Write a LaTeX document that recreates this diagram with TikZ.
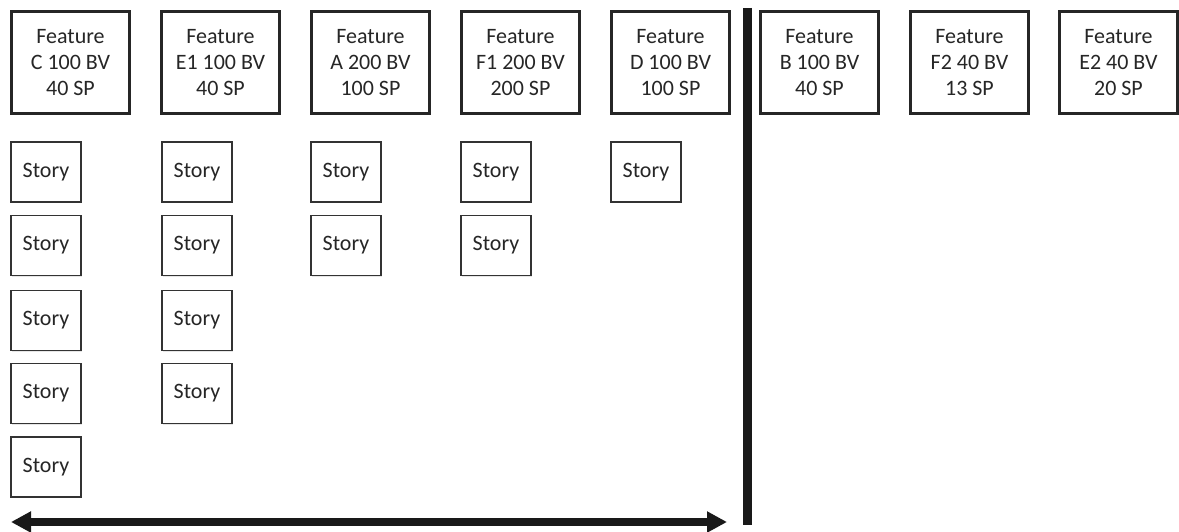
\documentclass[tikz,border=0pt]{standalone}
\usepackage{fontspec}
\setmainfont{Carlito}
\usetikzlibrary{arrows.meta,shadows}

\begin{document}
\begin{tikzpicture}[
        feature/.style={draw=black!85, line width=1.4pt, fill=white,
            minimum width=2.36cm, minimum height=2.04cm, align=center,
            text=black!85, font=\fontsize{12.5}{15}\selectfont,
            drop shadow={opacity=0.25, shadow xshift=0.8pt, shadow yshift=-0.8pt}},
        story/.style={draw=black!80, line width=1pt, fill=white,
            minimum width=1.4cm, minimum height=1.2cm,
            text=black!85, font=\fontsize{12.5}{15}\selectfont,
            drop shadow={opacity=0.2, shadow xshift=0.7pt, shadow yshift=-0.7pt}},
        divider/.style={line width=0.18cm, black!90},
        span/.style={line width=0.16cm, black!90,
            {Triangle[length=0.4cm, width=0.4cm]}-{Triangle[length=0.4cm, width=0.4cm]}}
    ]
        \useasboundingbox (0, 0) rectangle (23.58, 10.62);

        \node[feature] (fC)  at (1.41, 9.37)  {Feature\\C 100 BV\\40 SP};
        \node[feature] (fE1) at (4.41, 9.37)  {Feature\\E1 100 BV\\40 SP};
        \node[feature] (fA)  at (7.41, 9.37)  {Feature\\A 200 BV\\100 SP};
        \node[feature] (fF1) at (10.41, 9.37) {Feature\\F1 200 BV\\200 SP};
        \node[feature] (fD)  at (13.41, 9.37) {Feature\\D 100 BV\\100 SP};
        \node[feature] (fB)  at (16.39, 9.37) {Feature\\B 100 BV\\40 SP};
        \node[feature] (fF2) at (19.39, 9.37) {Feature\\F2 40 BV\\13 SP};
        \node[feature] (fE2) at (22.37, 9.37) {Feature\\E2 40 BV\\20 SP};

        \node[story] (sC1) at (0.92, 7.18) {Story};
        \node[story] (sC2) at (0.92, 5.71) {Story};
        \node[story] (sC3) at (0.92, 4.21) {Story};
        \node[story] (sC4) at (0.92, 2.75) {Story};
        \node[story] (sC5) at (0.92, 1.28) {Story};

        \node[story] (sE1) at (3.94, 7.18) {Story};
        \node[story] (sE2) at (3.94, 5.71) {Story};
        \node[story] (sE3) at (3.94, 4.21) {Story};
        \node[story] (sE4) at (3.94, 2.75) {Story};

        \node[story] (sA1) at (6.92, 7.18) {Story};
        \node[story] (sA2) at (6.92, 5.71) {Story};

        \node[story] (sF1) at (9.92, 7.18) {Story};
        \node[story] (sF2) at (9.92, 5.71) {Story};

        \node[story] (sD1) at (12.92, 7.18) {Story};

        \coordinate (barTop) at (14.95, 10.46);
        \coordinate (barBot) at (14.95, 0.12);
        \draw[divider] (barTop)--(barBot);

        \coordinate (spanL) at (0.22, 0.18);
        \coordinate (spanR) at (14.54, 0.18);
        \draw[span] (spanL)--(spanR);
    \end{tikzpicture}
\end{document}
